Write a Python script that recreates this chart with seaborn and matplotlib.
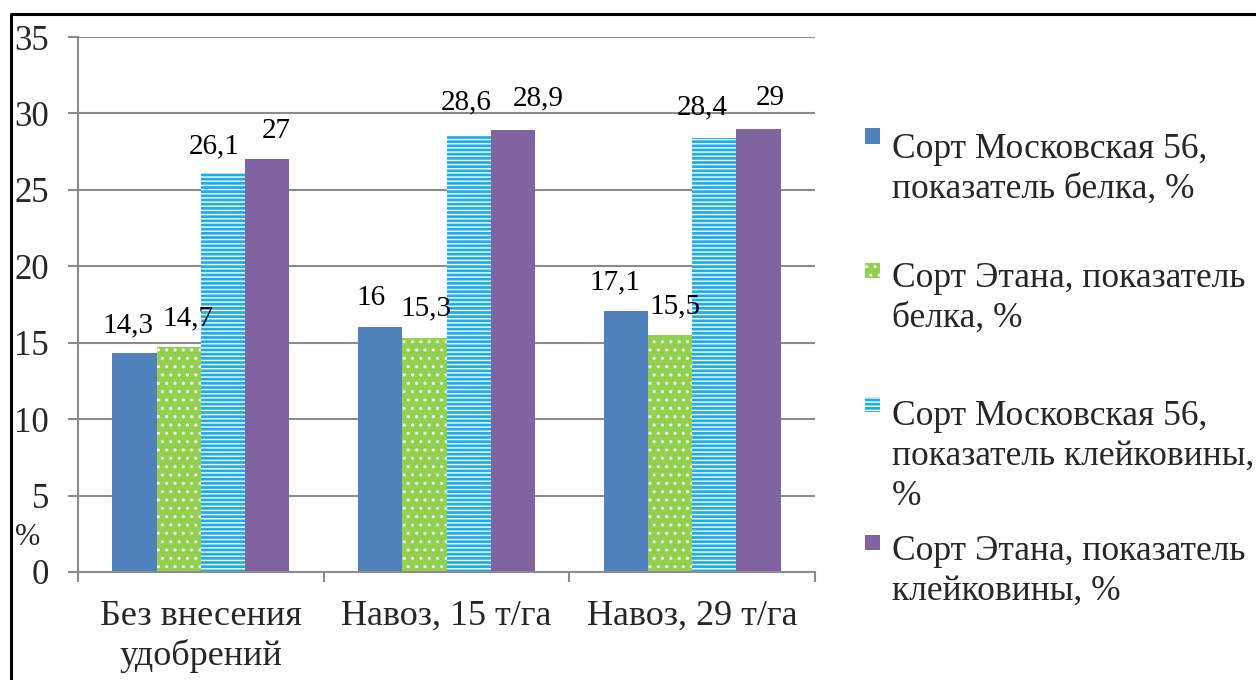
import numpy as np
import pandas as pd
import matplotlib
matplotlib.use("Agg")
import matplotlib.pyplot as plt
from matplotlib.patches import Rectangle
from matplotlib.lines import Line2D
import seaborn as sns

# Data: protein and gluten content of two wheat varieties under fertilizer treatments
categories = ["Без внесения\nудобрений", "Навоз, 15 т/га", "Навоз, 29 т/га"]
series = [
    "Сорт Московская 56,\nпоказатель белка, %",
    "Сорт Этана, показатель\nбелка, %",
    "Сорт Московская 56,\nпоказатель клейковины,\n%",
    "Сорт Этана, показатель\nклейковины, %",
]
moskovskaya_protein = [14.3, 16, 17.1]
etana_protein = [14.7, 15.3, 15.5]
moskovskaya_gluten = [26.1, 28.6, 28.4]
etana_gluten = [27, 28.9, 29]
yticks = [0, 5, 10, 15, 20, 25, 30, 35]

values = [moskovskaya_protein, etana_protein, moskovskaya_gluten, etana_gluten]
df = pd.DataFrame(
    [(c, s, v) for s, vals in zip(series, values) for c, v in zip(categories, vals)],
    columns=["category", "series", "value"],
)

colors = ["#4F81BD", "#92D050", "#1DADEB", "#8064A2"]
hatches = [None, "..", "----", None]

W, H, DPI = 1256, 680, 100
sns.set_theme(style="white")
plt.rcParams["font.family"] = ["Liberation Serif", "DejaVu Serif"]
plt.rcParams["hatch.linewidth"] = 1.0

fig = plt.figure(figsize=(W / DPI, H / DPI), dpi=DPI)
ax = fig.add_axes([78 / W, 1 - 572 / H, (815 - 78) / W, (572 - 37) / H])

sns.barplot(data=df, x="category", y="value", hue="series", palette=colors,
            saturation=1, width=0.72, gap=0, legend=False, ax=ax)

for cont, hatch in zip(ax.containers, hatches):
    for bar in cont:
        bar.set_linewidth(0)
        if hatch:
            bar.set_edgecolor("white")
            bar.set_hatch(hatch)

# value labels above the bars (comma as decimal separator)
label_dx = [[-7, -9, -11], [9, 2, 5], [-9, -2, -12], [9, 25, 12]]
label_dy = [[21, 22, 21], [22, 23, 22], [20, 25, 24], [21, 25, 24]]
for i, (cont, vals) in enumerate(zip(ax.containers, values)):
    for j, (bar, v) in enumerate(zip(cont, vals)):
        txt = f"{v:g}".replace(".", ",")
        ax.annotate(txt, (bar.get_x() + bar.get_width() / 2, bar.get_height()),
                    xytext=(label_dx[i][j], label_dy[i][j]), textcoords="offset pixels",
                    ha="center", va="baseline", fontsize=21, color="black")

grey = "#8C8C8C"
ax.set_ylim(0, 35)
ax.set_xlim(-0.5, 2.5)
ax.set_yticks(yticks)
ax.set_yticklabels([str(t) for t in yticks])
ax.yaxis.grid(True, color=grey, linewidth=1.5)
ax.xaxis.grid(False)
ax.set_axisbelow(True)
for side in ["top", "right"]:
    ax.spines[side].set_visible(False)
for side in ["left", "bottom"]:
    ax.spines[side].set_color(grey)
    ax.spines[side].set_linewidth(1.5)
ax.tick_params(axis="y", which="major", length=7, width=1.5, color=grey,
               direction="out", pad=14, labelsize=25, left=True)
ax.set_xticks([-0.5, 0.5, 1.5, 2.5], minor=True)
ax.tick_params(axis="x", which="minor", length=7, width=1.5, color=grey,
               direction="out", bottom=True)
ax.tick_params(axis="x", which="major", length=0, pad=20, labelsize=26)
ax.set_xticks(range(len(categories)))
ax.set_xticklabels(categories, linespacing=1.25)
ax.set_xlabel("")
ax.set_ylabel("")

fig.text(15 / W, 1 - 545 / H, "%", fontsize=22, va="baseline", ha="left")

# legend built from patches and text lines
marker_y = [136, 270, 405, 542]
first_baseline = [158, 287, 425, 560]
for k, s in enumerate(series):
    rect = Rectangle((865 / W, 1 - (marker_y[k] + 7.5) / H), 15 / W, 15 / H,
                     transform=fig.transFigure, facecolor=colors[k],
                     edgecolor="white" if hatches[k] else colors[k],
                     linewidth=0, hatch=hatches[k])
    fig.add_artist(rect)
    for n, line in enumerate(s.split("\n")):
        fig.text(892 / W, 1 - (first_baseline[k] + 40 * n) / H, line,
                 fontsize=25.5, va="baseline", ha="left")

# outer frame
fig.add_artist(Line2D([11 / W, 11 / W, 1.0], [0.0, 1 - 14 / H, 1 - 14 / H],
                      transform=fig.transFigure, color="black", linewidth=2.2))

fig.savefig("out.png", dpi=DPI)
